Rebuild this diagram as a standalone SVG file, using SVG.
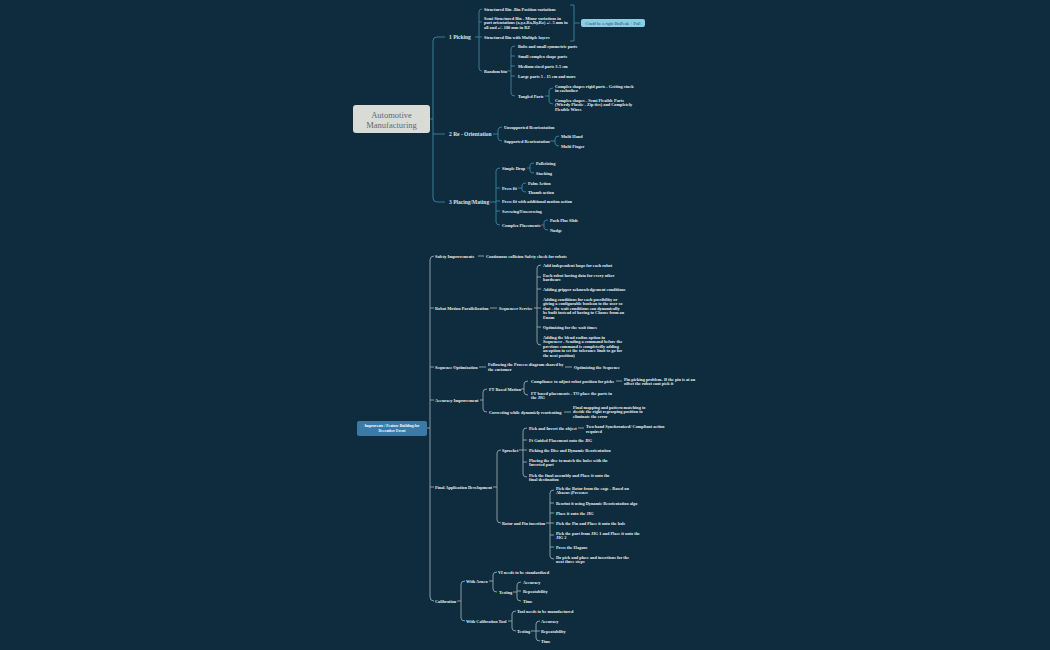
<svg xmlns="http://www.w3.org/2000/svg" width="1050" height="650" viewBox="0 0 1050 650">
<style>
text{font-family:"Liberation Serif","DejaVu Serif",serif;fill:#e8eef0;dominant-baseline:central}
.s{font-size:4.3px}
.b{font-size:4.3px;font-weight:bold}
.m{font-size:5.5px;fill:#d6e6ee;font-weight:bold}
.t path{fill:none;stroke:#3f8fb0;stroke-width:0.8}
.bt path{fill:none;stroke:#a9b6bc;stroke-width:0.8}
</style>
<rect width="1050" height="650" fill="#0e2c3e"/>
<g id="connectors">
<g class="t"><path d="M430,119 H433 M445,37 H437 Q433,37 433,41 V198 Q433,202 437,202 H445 M433,134 H445"/>
<path d="M475,37 H479 M482,9 Q479,9 479,12 V68 Q479,71 482,71 M479,22 H482 M479,37 H482"/>
<path d="M570,5 H574 V41 H570 M574,23 H580"/>
<path d="M507,71 H511 M515,46 Q511,46 511,49 V93 Q511,96 515,96 M511,56 H515 M511,66 H515 M511,76 H515"/>
<path d="M545,96 H549 M553,88 Q549,88 549,91 V101 Q549,104 553,104"/>
<path d="M493,134 H498 M502,127 Q498,127 498,130 V138 Q498,141 502,141"/>
<path d="M550,141 H555 M559,136 Q555,136 555,139 V143 Q555,146 559,146"/>
<path d="M490,202 H496 M500,168 Q496,168 496,171 V222 Q496,225 500,225 M496,188 H500 M496,201 H500 M496,211 H500"/>
<path d="M527,168 H530 M534,163 Q530,163 530,165 V171 Q530,173 534,173"/>
<path d="M518,188 H522 M526,183 Q522,183 522,185 V190 Q522,192 526,192"/>
<path d="M541,225 H544 M548,220 Q544,220 544,222 V228 Q544,230 548,230"/></g>
<g class="bt"><path d="M427,428 H430 M434,256 Q430,256 430,260 V597 Q430,601 434,601 M430,308 H434 M430,367 H434 M430,400 H434 M430,487 H434"/>
<path d="M478,256 H484 M490,308 H497 M534,308 H537 M541,265 Q537,265 537,268 V342 Q537,345 541,345 M537,277 H541 M537,289 H541 M537,308 H541 M537,327 H541"/>
<path d="M479,367 H486 M565,367 H572"/>
<path d="M480,400 H483 M487,389 Q483,389 483,392 V409 Q483,412 487,412 M521,389 H524 M528,381 Q524,381 524,384 V392 Q524,395 528,395 M616,381 H622 M564,412 H571"/>
<path d="M493,487 H497 M501,450 Q497,450 497,453 V520 Q497,523 501,523 M519,450 H523 M527,428 Q523,428 523,431 V474 Q523,477 527,477 M523,440 H527 M523,450 H527 M523,462 H527 M578,428 H584"/>
<path d="M546,523 H550 M554,490 Q550,490 550,493 V556 Q550,559 554,559 M550,503 H554 M550,513 H554 M550,523 H554 M550,535 H554 M550,547 H554"/>
<path d="M457,601 H461 M465,581 Q461,581 461,584 V618 Q461,621 465,621 M489,581 H493 M497,572 Q493,572 493,575 V589 Q493,592 497,592 M513,592 H517 M521,582 Q517,582 517,585 V598 Q517,601 521,601 M517,591 H521"/>
<path d="M508,621 H512 M516,611 Q512,611 512,614 V628 Q512,631 516,631 M531,631 H536 M540,621 Q536,621 536,624 V638 Q536,641 540,641 M536,631 H540"/></g>
</g>
<g id="root1"><rect x="353" y="105" width="77" height="28" rx="3" fill="#d9dcd6"/><text x="391.5" y="115" text-anchor="middle" style="font-size:8.5px;fill:#5b6b70">Automotive</text><text x="391.5" y="124.5" text-anchor="middle" style="font-size:8.5px;fill:#5b6b70">Manufacturing</text></g>
<g id="picking"><text class="m" x="449" y="37">1 Picking</text>
<text class="b" x="484" y="9">Structured Bin -Bin Position variations</text>
<text class="b" x="484" y="18">Semi Structured Bin - Minor variations in</text><text class="b" x="484" y="22.5">part orientations (x,y,z,Rx,Ry,Rz) +/- 5 mm in</text><text class="b" x="484" y="27">all and +/- 180 mm in RZ</text>
<text class="b" x="484" y="37">Structured Bin with Multiple layers</text>
<text class="b" x="484" y="71">Random bin</text>
<text class="b" x="518" y="46">Bolts and small symmetric parts</text>
<text class="b" x="518" y="56">Small complex shape parts</text>
<text class="b" x="518" y="66">Medium sized parts 3-5 cm</text>
<text class="b" x="518" y="76">Large parts 5 - 15 cm and more</text>
<text class="b" x="518" y="96">Tangled Parts</text>
<text class="b" x="555" y="86">Complex shapes rigid parts - Getting stuck</text><text class="b" x="555" y="90.5">in eachother</text>
<text class="b" x="555" y="100">Complex shapes - Semi Flexible Parts</text><text class="b" x="555" y="104.5">(Wierdy Plastic - Zip ties) and Completely</text><text class="b" x="555" y="109">Flexible Wires</text></g>
<g id="note"><rect x="581" y="19" width="64" height="8" rx="2" fill="#8ccde6"/><text x="613" y="23" text-anchor="middle" style="font-size:4.3px;fill:#1d4a60">Could be a right BinPeak + Pull</text></g>
<g id="reorient"><text class="m" x="449" y="134">2 Re - Orientation</text>
<text class="b" x="504" y="127">Unsupported Reorientation</text>
<text class="b" x="504" y="141">Supported Reorientation</text>
<text class="b" x="561" y="136">Multi Hand</text>
<text class="b" x="561" y="146">Multi Finger</text></g>
<g id="placing"><text class="m" x="449" y="202">3 Placing/Mating</text>
<text class="b" x="502" y="168">Simple Drop</text>
<text class="b" x="536" y="163">Palletizing</text>
<text class="b" x="536" y="173">Stacking</text>
<text class="b" x="502" y="188">Press fit</text>
<text class="b" x="528" y="183">Palm Action</text>
<text class="b" x="528" y="192">Thumb action</text>
<text class="b" x="502" y="201">Press fit with additional motion action</text>
<text class="b" x="502" y="211">Screwing/Unscrewing</text>
<text class="b" x="502" y="225">Complex Placements</text>
<text class="b" x="550" y="220">Push Plus Slide</text>
<text class="b" x="550" y="230">Nudge</text></g>
<g id="root2"><rect x="357" y="421" width="70" height="15" rx="2" fill="#3b7aa6"/><text x="392" y="425.5" text-anchor="middle" style="font-size:3.8px;font-weight:bold;fill:#fff">Improvents / Feature Building for</text><text x="392" y="431" text-anchor="middle" style="font-size:3.8px;font-weight:bold;fill:#fff">December Event</text></g>
<g id="safety"><text class="b" x="435" y="256">Safety Improvements</text><text class="b" x="486" y="256">Continuous collision Safety check for robots</text></g>
<g id="parallel"><text class="b" x="435" y="308">Robot Motion Parallelization</text><text class="b" x="499" y="308">Sequencer Service</text>
<text class="b" x="543" y="265">Add independent loops for each robot</text>
<text class="b" x="543" y="275">Each robot having data for every other</text><text class="b" x="543" y="279.5">hardware</text>
<text class="b" x="543" y="289">Adding gripper acknowledgement conditions</text>
<text class="b" x="543" y="299">Adding conditions for each possibility or</text><text class="b" x="543" y="303.5">giving a configurable boolean to the user so</text><text class="b" x="543" y="308">that - the wait conditions can dynamically</text><text class="b" x="543" y="312.5">be built instead of having to Choose from an</text><text class="b" x="543" y="317">Enum</text>
<text class="b" x="543" y="327">Optimizing for the wait times</text>
<text class="b" x="543" y="337">Adding the blend radius option in</text><text class="b" x="543" y="341.5">Sequencer - Sending a command before the</text><text class="b" x="543" y="346">previous command is completedly adding</text><text class="b" x="543" y="350.5">an option to set the tolerance limit to go for</text><text class="b" x="543" y="355">the next position)</text></g>
<g id="seqopt"><text class="b" x="435" y="367">Sequence Optimization</text><text class="b" x="488" y="364.5">Following the Process diagram shared by</text><text class="b" x="488" y="369">the customer</text><text class="b" x="574" y="367">Optimizing the Sequence</text></g>
<g id="accuracy"><text class="b" x="435" y="400">Accuracy Improvement</text>
<text class="b" x="489" y="389">FT Based Motion</text>
<text class="b" x="531" y="381">Compliance to adjust robot position for picks</text>
<text class="b" x="624" y="379">Pin picking problem- If the pin is at an</text><text class="b" x="624" y="383.5">offset the robot cant pick it</text>
<text class="b" x="531" y="393">FT based placements - TO place the parts in</text><text class="b" x="531" y="397.5">the JIG</text>
<text class="b" x="489" y="412">Correcting while dynamicly reorienting</text>
<text class="b" x="573" y="407">Final mapping and pattern matching to</text><text class="b" x="573" y="411.5">decide the right regrasping position to</text><text class="b" x="573" y="416">eliminate the error</text></g>
<g id="finalapp"><text class="b" x="435" y="487">Final Application Development</text>
<text class="b" x="502" y="450">Sprocket</text>
<text class="b" x="529" y="428">Pick and Invert the object</text>
<text class="b" x="586" y="426.5">Two hand Synchronized/ Compliant action</text><text class="b" x="586" y="431">required</text>
<text class="b" x="529" y="440">Ft Guided Placement onto the JIG</text>
<text class="b" x="529" y="450">Picking the Disc and Dynamic Reorientation</text>
<text class="b" x="529" y="460">Placing the disc to match the holes with the</text><text class="b" x="529" y="464.5">Inverted part</text>
<text class="b" x="529" y="475">Pick the final assembly and Place it onto the</text><text class="b" x="529" y="479.5">final destination</text>
<text class="b" x="502" y="523">Rotor and Pin insertion</text>
<text class="b" x="556" y="488">Pick the Rotor from the cage - Based on</text><text class="b" x="556" y="492.5">Abacus (Presence</text>
<text class="b" x="556" y="503">Reorint it using Dynamic Reorientation algo</text>
<text class="b" x="556" y="513">Place it onto the JIG</text>
<text class="b" x="556" y="523">Pick the Pin and Place it onto the hole</text>
<text class="b" x="556" y="533">Pick the part from JIG 1 and Place it onto the</text><text class="b" x="556" y="537.5">JIG 2</text>
<text class="b" x="556" y="547">Press the Hagane</text>
<text class="b" x="556" y="557">Do pick and place and insertions for the</text><text class="b" x="556" y="561.5">next three steps</text></g>
<g id="calibration"><text class="b" x="435" y="601">Calibration</text>
<text class="b" x="466" y="581">With Aruco</text>
<text class="b" x="498" y="572">VI needs to be standardized</text>
<text class="b" x="499" y="592">Testing</text>
<text class="b" x="523" y="582">Accuracy</text><text class="b" x="523" y="591">Repeatability</text><text class="b" x="523" y="601">Time</text>
<text class="b" x="466" y="621">With Calibration Tool</text>
<text class="b" x="517" y="611">Tool needs to be manufactured</text>
<text class="b" x="517" y="631">Testing</text>
<text class="b" x="541" y="621">Accuracy</text><text class="b" x="541" y="631">Repeatability</text><text class="b" x="541" y="641">Time</text></g>
</svg>
